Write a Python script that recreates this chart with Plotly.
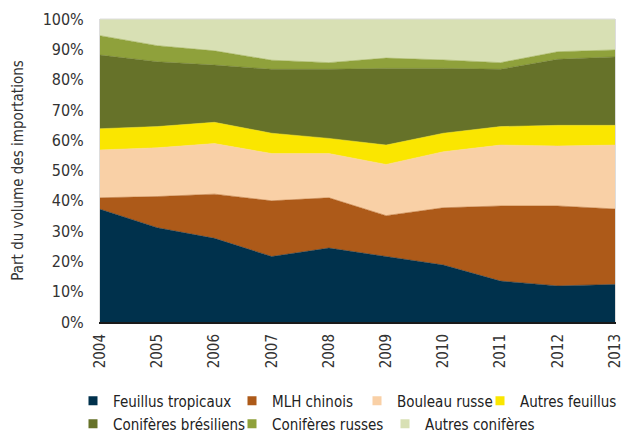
import plotly.graph_objects as go

years = ["2004", "2005", "2006", "2007", "2008", "2009", "2010", "2011", "2012", "2013"]

feuillus_tropicaux = [37.2, 31.1, 27.6, 21.6, 24.4, 21.5, 18.8, 13.5, 11.9, 12.4]
mlh_chinois = [3.8, 10.3, 14.6, 18.4, 16.6, 13.6, 18.9, 24.8, 26.4, 24.9]
bouleau_russe = [15.8, 16.1, 16.7, 15.6, 14.6, 16.9, 18.5, 20.1, 19.8, 21.1]
autres_feuillus = [7.0, 7.0, 7.0, 6.7, 5.0, 6.4, 6.1, 6.1, 6.8, 6.5]
coniferes_bresiliens = [24.3, 21.4, 18.9, 21.1, 22.8, 25.3, 21.4, 18.9, 21.8, 22.6]
coniferes_russes = [6.4, 5.3, 4.7, 3.0, 2.2, 3.4, 2.8, 2.2, 2.5, 2.3]
autres_coniferes = [5.5, 8.8, 10.5, 13.6, 14.4, 12.9, 13.5, 14.4, 10.8, 10.2]

series_names = ["Feuillus tropicaux", "MLH chinois", "Bouleau russe", "Autres feuillus",
                "Conifères brésiliens", "Conifères russes", "Autres conifères"]
series_values = [feuillus_tropicaux, mlh_chinois, bouleau_russe, autres_feuillus,
                 coniferes_bresiliens, coniferes_russes, autres_coniferes]
series_colors = ["#00314C", "#AD5A19", "#F9D0A6", "#FAE600", "#667229", "#8FA13B", "#D8E0B4"]

# legend layout: (text left x in px, row center y in px)
legend_pos = [(113, 401), (272, 401), (397, 401), (520, 401),
              (113, 424), (272, 424), (425, 424)]

y_ticks = list(range(0, 101, 10))
y_tick_labels = [f"{v}%" for v in y_ticks]

FONT = "DejaVu Sans Condensed, Liberation Sans Narrow, Roboto, sans-serif"
W, H = 628, 434
TEXT_OFFSET = 40

fig = go.Figure()
for name, vals, color in zip(series_names, series_values, series_colors):
    fig.add_trace(go.Scatter(
        x=years, y=vals, name=name, stackgroup="one", mode="lines",
        line=dict(width=0.5, color=color), fillcolor=color, showlegend=False,
    ))

legends = {}
for i, (name, color, (tx, ty)) in enumerate(zip(series_names, series_colors, legend_pos)):
    key = "legend" if i == 0 else f"legend{i + 1}"
    fig.add_trace(go.Scatter(
        x=[None], y=[None], mode="markers", name=name,
        marker=dict(symbol="square", size=9, color=color),
        legend=key, showlegend=True, hoverinfo="skip",
    ))
    legends[key] = dict(
        x=(tx - TEXT_OFFSET) / W, y=1 - ty / H, xref="container", yref="container",
        xanchor="left", yanchor="middle", orientation="h",
        font=dict(family=FONT, size=15, color="#222"),
        bgcolor="rgba(0,0,0,0)", itemwidth=30,
    )

fig.update_layout(
    width=W, height=H,
    margin=dict(l=100, r=13, t=19, b=112, autoexpand=False),
    paper_bgcolor="white", plot_bgcolor="white",
    font=dict(family=FONT, size=15, color="#333"),
    showlegend=True,
    xaxis=dict(
        range=[0, 9], showgrid=False, zeroline=False,
        showline=True, linecolor="#1a1a1a", linewidth=2,
        tickangle=-90, ticks="", tickfont=dict(family=FONT, size=15, color="#333"),
        type="category", automargin=False, ticklabelstandoff=4,
    ),
    yaxis=dict(
        range=[0, 100], tickvals=y_ticks, ticktext=y_tick_labels,
        showgrid=False, zeroline=False, showline=True, linecolor="#dddddd",
        linewidth=1, mirror=True, ticks="", automargin=False,
        tickfont=dict(family=FONT, size=16, color="#333"), ticklabelstandoff=12,
        title=dict(text="Part du volume des importations",
                   font=dict(family=FONT, size=15, color="#333"), standoff=15),
    ),
    shapes=[dict(type="line", xref="paper", yref="paper", x0=0, x1=1, y0=1, y1=1,
                 line=dict(color="#dddddd", width=1))],
    **legends,
)

fig.write_html("out.html", config={"displayModeBar": False},
               post_script="document.body.style.margin='0';")
